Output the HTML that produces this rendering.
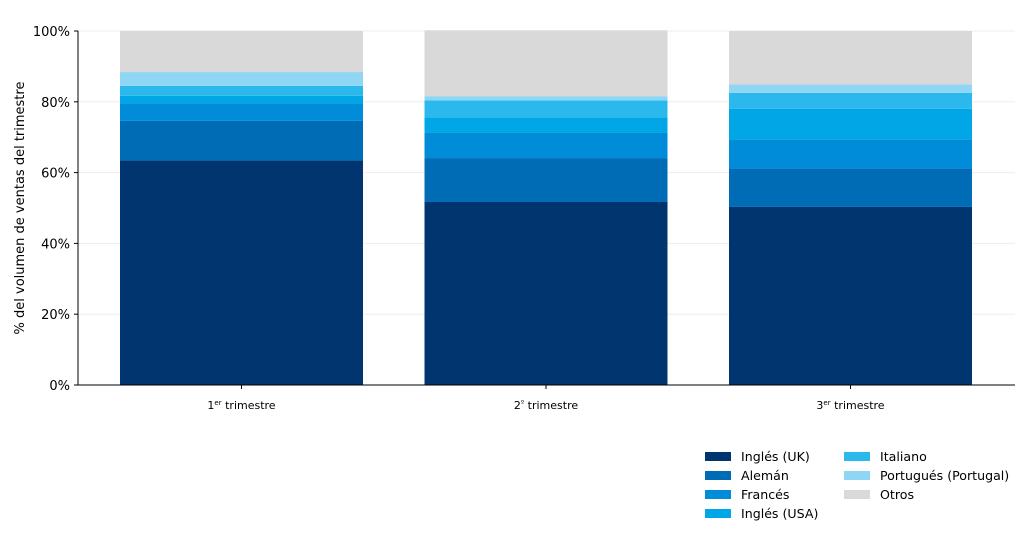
<!DOCTYPE html>
<html><head><meta charset="utf-8"><style>
body{margin:0;background:#fff;}
svg text{font-family:"DejaVu Sans","Liberation Sans",sans-serif;fill:#000;}
</style></head><body>
<svg id="chart" width="1024" height="533">
<g id="grid"></g><g id="bars"></g><g id="axes"></g><g id="legend"></g>
</svg>
<script>
const categories = ["1", "2", "3"];
const catSup = ["er", "º", "er"];
const seriesNames = ["Inglés (UK)", "Alemán", "Francés", "Inglés (USA)", "Italiano", "Portugués (Portugal)", "Otros"];
const ukValues = [63.4, 51.7, 50.3];
const alemanValues = [11.2, 12.4, 10.9];
const francesValues = [4.9, 7.1, 8.2];
const usaValues = [2.2, 4.4, 8.6];
const italianoValues = [2.8, 4.8, 4.5];
const portuguesValues = [3.9, 1.2, 2.4];
const otrosValues = [11.6, 18.6, 15.1];
const yTicks = [0, 20, 40, 60, 80, 100];
const colors = ["#003570", "#006cb5", "#008cd8", "#00a6e6", "#2bb8ec", "#8fd6f4", "#d9d9d9"];
const series = [ukValues, alemanValues, francesValues, usaValues, italianoValues, portuguesValues, otrosValues];

const NS = "http://www.w3.org/2000/svg";
const X0 = 78, X1 = 1015, Y0 = 385, Y1 = 31;
const y = v => Y0 - (v / 100) * (Y0 - Y1);
const band = 304.5;
const xc = i => 241.5 + band * i;
const barW = 243;
function mk(tag, attrs, parent) { const e = document.createElementNS(NS, tag); for (const k in attrs) e.setAttribute(k, attrs[k]); parent.appendChild(e); return e; }
const grid = document.getElementById('grid'), bars = document.getElementById('bars'), axes = document.getElementById('axes'), legend = document.getElementById('legend');

yTicks.forEach(t => {
  const gl = mk('line', {x1: X0, x2: X1, y1: y(t), y2: y(t), stroke: '#eeeeee', 'stroke-width': 1}, grid);
  
  
  const tk = mk('line', {x1: X0 - 4, x2: X0, y1: y(t), y2: y(t), stroke: '#000'}, axes);
  
  
  const lb = mk('text', {x: X0 - 8, y: y(t) + 5, 'text-anchor': 'end', 'font-size': 13}, axes);
  lb.textContent = t + '%';
  
  
});

categories.forEach((c, i) => {
  let acc = 0;
  series.forEach((s, k) => {
    const r = mk('rect', {x: xc(i) - barW / 2, y: y(acc + s[i]), width: barW, height: y(acc) - y(acc + s[i]), fill: colors[k]}, bars);
    
    
    acc += s[i];
  });
  const tk = mk('line', {x1: xc(i), x2: xc(i), y1: Y0, y2: Y0 + 4, stroke: '#000'}, axes);
  
  
  const lb = mk('text', {x: xc(i), y: 409, 'text-anchor': 'middle', 'font-size': 11}, axes);
  
  
  const a = mk('tspan', {}, lb); a.textContent = c;
  const b = mk('tspan', {'font-size': 7, dy: -4}, lb); b.textContent = catSup[i];
  const d = mk('tspan', {dy: 4}, lb); d.textContent = ' trimestre';
});

const ax = mk('line', {x1: X0, x2: X0, y1: Y1, y2: Y0, stroke: '#000'}, axes);


const bx = mk('line', {x1: X0, x2: X1, y1: Y0, y2: Y0, stroke: '#000'}, axes);


const yt = mk('text', {transform: 'translate(24,208) rotate(-90)', 'text-anchor': 'middle', 'font-size': 13}, axes);
yt.textContent = '% del volumen de ventas del trimestre';



seriesNames.forEach((n, k) => {
  const col = k < 4 ? 0 : 1, row = k < 4 ? k : k - 4;
  const lx = col ? 844 : 705, ly = 456 + row * 19;
  const g = mk('g', {}, legend);
  
  
  mk('rect', {x: lx, y: ly - 4, width: 26, height: 9, fill: colors[k]}, g);
  const t = mk('text', {x: lx + 36, y: ly + 5, 'font-size': 12.6}, g);
  t.textContent = n;
});
</script>
</body></html>
